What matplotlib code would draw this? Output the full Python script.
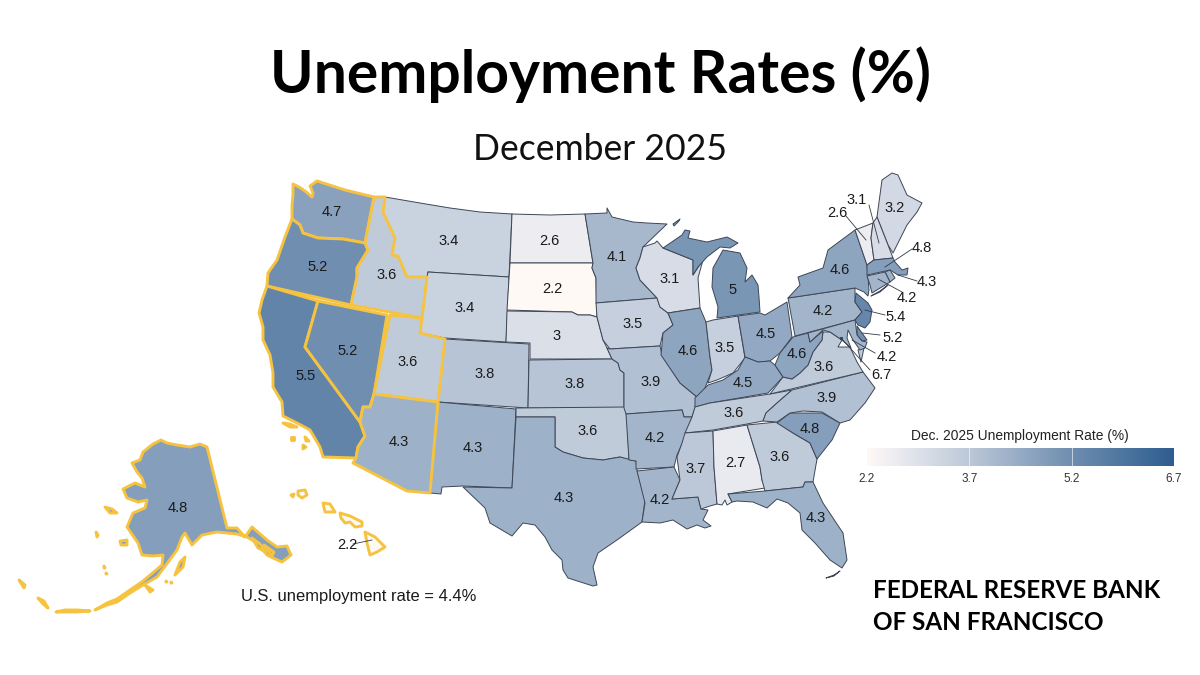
import numpy as np
import matplotlib
matplotlib.use("Agg")
import matplotlib.pyplot as plt
from matplotlib.colors import LinearSegmentedColormap, Normalize
from matplotlib.patches import Polygon

# ---- data ----
STATES = ["WA","OR","CA","NV","ID","MT","WY","UT","AZ","CO","NM","ND","SD","NE","KS","OK","TX","MN","IA","MO",
          "AR","LA","WI","IL","MI","IN","OH","KY","TN","MS","AL","GA","FL","SC","NC","VA","WV","PA","NY","ME",
          "VT","NH","MA","RI","CT","NJ","DE","MD","DC","AK","HI"]
RATES = [4.7,5.2,5.5,5.2,3.6,3.4,3.4,3.6,4.3,3.8,4.3,2.6,2.2,3.0,3.8,3.6,4.3,4.1,3.5,3.9,
         4.2,4.2,3.1,4.6,5.0,3.5,4.5,4.5,3.6,3.7,2.7,3.6,4.3,4.8,3.9,3.6,4.6,4.2,4.6,3.2,
         2.6,3.1,4.8,4.3,4.2,5.4,5.2,4.2,6.7,4.8,2.2]
RATE = dict(zip(STATES, RATES))
DISTRICT_12 = ["WA","OR","CA","NV","ID","UT","AZ","AK","HI"]
CBAR_TICKS = [2.2, 3.7, 5.2, 6.7]
TITLE = "Unemployment Rates (%)"
SUBTITLE = "December 2025"
NOTE = "U.S. unemployment rate = 4.4%"
LEGEND_TITLE = "Dec. 2025 Unemployment Rate (%)"
BANK_LINES = ["FEDERAL RESERVE BANK", "OF SAN FRANCISCO"]

# hand-traced state outlines in map units (no geographic dataset is available offline)
SHAPES = {
"WA":[[(293,184),(299,187),(305,191),(312,197),(313,193),(310,186),(317,181),(345,190),(374,197),(365,243),(343,239),(318,238),(303,233),(300,225),(292,219),(292,205),(293,195)]],
"OR":[[(292,219),(300,225),(303,233),(318,238),(343,239),(365,243),(368,250),(357,268),(357,277),(351,305),(267,286),(268,273),(277,260),(285,237)]],
"CA":[[(267,286),(318,301),(305,347),(360,422),(365,436),(358,447),(356,458),(323,457),(320,447),(310,430),(297,423),(283,416),(282,402),(273,387),(273,373),(270,355),(263,340),(263,327),(259,313),(262,300)],
      [(283,423),(290,424),(297,427),(290,427)],[(291,437),(294,437),(294,440),(291,440)],[(305,437),(309,441),(306,441)],[(303,445),(306,447),(303,449)]],
"NV":[[(318,301),(387,315),(374,394),(370,407),(363,407),(360,422),(305,347)]],
"ID":[[(374,197),(385,197),(383,212),(395,238),(392,255),(398,256),(407,277),(427,277),(422,318),(351,305),(357,277),(357,268),(368,250),(365,243)]],
"MT":[[(385,197),(420,203),(450,208),(480,212),(512,214),(509,277),(428,272),(427,277),(407,277),(398,256),(392,255),(395,238),(383,212)]],
"WY":[[(428,272),(509,277),(506,342),(445,338),(420,333),(422,318),(427,277)]],
"UT":[[(390,315),(422,318),(420,333),(445,339),(438,402),(374,394)]],
"AZ":[[(374,394),(438,402),(430,493),(407,491),(353,463),(356,458),(358,447),(365,436),(360,422),(363,407),(370,407)]],
"CO":[[(445,339),(529,344),(528,408),(438,402)]],
"NM":[[(438,402),(516,409),(512,488),(463,486),(442,487),(441,494),(430,493)]],
"ND":[[(512,214),(550,215),(585,214),(593,263),(510,263)]],
"SD":[[(510,263),(593,263),(592,268),(596,278),(597,317),(590,315),(578,315),(572,312),(507,310)]],
"NE":[[(507,311),(572,312),(578,315),(590,315),(597,317),(603,340),(607,348),(612,359),(530,359),(530,343),(506,342)]],
"KS":[[(529,360),(612,359),(618,363),(620,370),(624,373),(624,408),(528,408)]],
"OK":[[(516,408),(625,407),(627,415),(629,460),(620,457),(603,460),(583,458),(563,452),(555,447),(555,417),(516,417)]],
"TX":[[(516,417),(555,417),(555,447),(563,452),(583,458),(603,460),(620,457),(636,461),(637,470),(645,500),(642,522),(617,540),(598,553),(593,567),(597,585),(593,586),(568,578),(563,570),(562,560),(552,550),(545,537),(535,525),(523,523),(512,536),(490,523),(485,508),(463,487),(512,488)]],
"MN":[[(585,214),(607,213),(607,208),(612,217),(633,222),(647,223),(667,224),(643,247),(640,258),(636,268),(640,280),(657,298),(596,303),(596,278),(592,268),(593,263)]],
"IA":[[(596,303),(657,298),(660,307),(668,313),(673,325),(663,333),(660,346),(610,349),(603,340),(597,317)]],
"MO":[[(610,349),(660,346),(662,355),(667,363),(680,383),(697,397),(695,408),(692,417),(684,417),(682,410),(626,414),(624,408),(624,373),(620,370),(618,363),(612,359),(607,348)]],
"AR":[[(626,414),(682,410),(684,417),(692,417),(687,433),(677,455),(674,467),(636,469),(636,461),(629,460)]],
"LA":[[(637,471),(674,467),(680,480),(672,499),(698,497),(701,509),(708,510),(703,520),(711,526),(705,528),(697,525),(687,529),(673,520),(660,523),(642,522),(645,503)]],
"WI":[[(657,298),(640,280),(636,268),(640,258),(643,247),(655,243),(657,241),(663,248),(693,260),(693,275),(703,260),(698,278),(700,308),(668,313),(660,307)]],
"IL":[[(668,313),(700,308),(706,322),(710,357),(712,370),(705,388),(703,397),(697,397),(680,383),(661,355),(663,333),(673,325)]],
"MI":[[(717,318),(760,312),(759,297),(758,285),(752,275),(745,282),(747,268),(740,253),(723,250),(713,268),(712,287),(718,307)],
      [(663,248),(682,235),(685,230),(690,231),(688,238),(707,242),(727,237),(738,243),(730,248),(720,247),(707,257),(698,267),(693,275),(693,260)],
      [(673,224),(680,219),(679,221),(674,226)]],
"IN":[[(706,322),(713,320),(738,316),(745,358),(733,373),(717,380),(708,383),(712,370),(710,357)]],
"OH":[[(738,316),(760,313),(765,315),(787,302),(792,337),(780,353),(770,361),(758,362),(745,357)]],
"KY":[[(745,357),(758,362),(770,361),(775,365),(783,377),(768,393),(710,403),(695,407),(695,398),(708,385),(723,380),(738,370)]],
"TN":[[(695,407),(710,403),(770,394),(792,390),(777,403),(766,413),(763,421),(747,424),(713,430),(685,433),(692,417)]],
"MS":[[(685,433),(713,431),(714,467),(717,504),(710,506),(701,509),(698,497),(672,499),(680,480),(677,457),(682,443)]],
"AL":[[(713,431),(747,425),(760,467),(762,480),(765,488),(728,494),(732,502),(727,505),(725,500),(722,505),(717,504),(714,467)]],
"GA":[[(747,425),(777,422),(793,433),(810,443),(817,459),(813,482),(805,482),(803,487),(765,491),(762,480),(760,467)]],
"FL":[[(728,494),(765,491),(803,487),(805,482),(813,482),(823,503),(843,533),(847,560),(842,568),(830,560),(815,543),(802,530),(800,513),(788,503),(777,499),(767,508),(753,502),(737,501),(732,502)],
      [(826,578),(834,575),(840,571),(834,576)]],
"SC":[[(777,423),(790,413),(807,413),(822,413),(840,423),(832,440),(817,459),(810,443),(793,433)]],
"NC":[[(863,372),(875,388),(865,403),(850,420),(840,423),(822,412),(803,411),(790,413),(777,422),(763,421),(766,413),(777,403),(792,390)]],
"VA":[[(770,394),(863,372),(857,362),(850,347),(838,347),(842,340),(830,332),(823,332),(822,340),(813,352),(808,365),(800,373),(792,379),(783,377)],
      [(858,350),(864,348),(861,362)]],
"WV":[[(793,337),(808,333),(810,342),(823,331),(822,340),(813,352),(808,365),(800,373),(792,379),(783,377),(775,365),(780,353)]],
"PA":[[(788,298),(795,297),(855,288),(855,302),(862,312),(855,320),(795,336)]],
"NY":[[(788,298),(800,285),(798,277),(823,268),(828,250),(855,230),(867,265),(869,290),(868,296),(864,292),(855,288),(795,297)],
      [(871,296),(880,291),(888,285),(880,292)]],
"ME":[[(877,217),(882,180),(892,173),(898,175),(907,195),(922,203),(917,212),(907,225),(893,253),(888,245)]],
"VT":[[(855,230),(873,223),(871,238),(874,260),(867,265)]],
"NH":[[(873,223),(877,217),(888,245),(893,258),(874,260),(871,238)]],
"MA":[[(867,265),(874,260),(893,258),(895,262),(902,270),(908,268),(907,275),(898,275),(890,270),(867,275)]],
"RI":[[(885,272),(890,270),(895,278),(890,282)]],
"CT":[[(867,276),(885,272),(890,282),(872,293),(870,285)]],
"NJ":[[(856,293),(868,303),(872,310),(870,322),(865,328),(858,325),(855,320),(862,312),(855,302)]],
"DE":[[(857,326),(867,340),(862,341),(857,335)]],
"MD":[[(808,333),(855,320),(857,335),(862,341),(867,342),(865,348),(860,350),(853,340),(848,330),(847,338),(851,348),(842,340),(830,332),(823,330),(810,342)]],
"DC":[[(840,337),(842,337),(842,339),(840,339)]],
"AK":[[(207,447),(227,528),(237,528),(245,537),(252,527),(267,540),(277,547),(287,546),(291,555),(282,562),(273,558),(267,555),(257,543),(247,537),(237,534),(217,532),(202,535),(192,545),(185,533),(182,537),(177,550),(157,577),(143,585),(130,593),(117,602),(107,605),(95,610),(107,603),(117,599),(130,590),(143,581),(162,565),(163,555),(153,556),(142,555),(138,543),(127,527),(133,513),(145,508),(147,500),(138,502),(127,498),(123,489),(135,483),(145,487),(142,478),(137,472),(132,463),(140,460),(143,452),(153,444),(161,440),(167,443),(177,445),(190,447),(200,444)],
      [(175,575),(180,562),(185,557),(183,567)],[(105,507),(112,509),(117,513),(110,513)],[(120,541),(127,540),(127,545),(121,545)],
      [(96,532),(98,535),(97,537)],[(104,566),(105,568),(104,568)],[(106,573),(107,574),(106,574)],
      [(19,580),(25,585),(24,588)],[(38,598),(44,601),(48,608),(43,604)],[(56,612),(65,610),(77,610),(90,611),(77,612),(65,612)],[(145,585),(153,590),(150,592)],
      [(166,581),(167,582),(166,582)],[(171,582),(172,583),(171,583)],
      [(252,538),(260,544),(266,552),(258,548)],[(264,545),(274,552),(272,556)]],
"HI":[[(365,532),(375,537),(385,547),(377,552),(370,555),(367,543)],[(340,513),(350,516),(362,522),(362,526),(355,527),(350,522),(345,523),(341,518)],
      [(323,503),(330,504),(335,512),(325,512)],[(298,491),(305,490),(307,495),(302,498),(298,495)],[(291,495),(294,494),(293,497)]],
}
# direct labels
LABEL_AT = {"WA":(332,212),"OR":(318,267),"CA":(306,376),"NV":(348,351),"ID":(387,275),"MT":(449,241),"WY":(465,308),"UT":(408,362),
"AZ":(399,442),"CO":(485,374),"NM":(473,448),"ND":(549,241),"SD":(552,289),"NE":(557,336),"KS":(575,384),"OK":(588,431),"TX":(564,498),
"MN":(617,257),"IA":(633,324),"MO":(651,382),"AR":(655,438),"LA":(660,500),"WI":(670,279),"IL":(688,351),"MI":(733,290),"IN":(725,348),
"OH":(766,334),"KY":(743,383),"TN":(734,413),"MS":(696,469),"AL":(735,463),"GA":(780,457),"FL":(816,518),"SC":(810,429),"NC":(827,398),
"VA":(824,367),"WV":(797,354),"PA":(823,311),"NY":(840,270),"ME":(895,208),"AK":(178,508)}
# callouts: state -> (label position, leader start, leader end)
CALLOUTS = {"VT":((837,213),(846,216),(866,240)),"NH":((857,200),(869,205),(879,243)),"MA":((922,248),(912,249),(885,267)),
"RI":((927,282),(917,281),(898,275)),"CT":((907,298),(902,292),(878,279)),"NJ":((896,317),(885,315),(865,310)),
"DE":((893,338),(880,335),(862,333)),"MD":((887,357),(875,353),(852,340)),"DC":((881,375),(870,370),(841,338)),
"HI":((347,545),(353,544),(372,540))}

plt.rcParams["font.family"] = ["Liberation Sans", "DejaVu Sans"]
cmap = LinearSegmentedColormap.from_list("rate", [(0,"#fff9f6"),(0.1,"#ebebf0"),(0.333,"#bcc8d8"),(0.667,"#6f8eb0"),(1,"#2d5d8e")], N=512)
norm = Normalize(min(CBAR_TICKS), max(CBAR_TICKS))
GOLD, DARK, INK = "#f6c340", "#3d4656", "#1a1a1a"

fig = plt.figure(figsize=(12, 6.75), dpi=100)
ax = fig.add_axes([0, 0, 1, 1])
ax.set_xlim(0, 1200); ax.set_ylim(675, 0); ax.axis("off")

for st in [s for s in STATES if s not in DISTRICT_12] + DISTRICT_12:
    gold = st in DISTRICT_12
    for part in SHAPES[st]:
        ax.add_patch(Polygon(part, closed=True, fc=cmap(norm(RATE[st])), ec=GOLD if gold else DARK,
                             lw=2.1 if gold else 0.7, joinstyle="round", zorder=3 if gold else 2))

def fmt(v):
    return f"{v:g}"
for st, (x, y) in LABEL_AT.items():
    ax.text(x, y, fmt(RATE[st]), ha="center", va="center", fontsize=10.5, color=INK, zorder=6)
for st, (lab, a, b) in CALLOUTS.items():
    ax.plot([a[0], b[0]], [a[1], b[1]], color="#333a46", lw=0.6, zorder=5)
    ax.text(lab[0], lab[1], fmt(RATE[st]), ha="center", va="center", fontsize=10.5, color=INK, zorder=6)

ax.text(600, 75, TITLE, ha="center", va="center", fontsize=42.3, fontweight="bold", family="Lato", color="black")
ax.text(600, 150, SUBTITLE, ha="center", va="center", fontsize=25.6, family="Lato", color="#111111")
ax.text(241, 596, NOTE, ha="left", va="center", fontsize=11.85, color=INK)
for line, y in zip(BANK_LINES, (591, 622)):
    ax.text(873, y, line, ha="left", va="center", fontsize=17.4, fontweight="bold", family="Lato", color="black")

# colour bar
cax = fig.add_axes([867/1200, 1-466/675, (1174-867)/1200, 18/675])
cax.imshow(np.linspace(0, 1, 512)[None, :], cmap=cmap, aspect="auto", extent=[norm.vmin, norm.vmax, 0, 1])
cax.set_yticks([]); cax.set_xticks(CBAR_TICKS)
cax.set_xticklabels([fmt(t) for t in CBAR_TICKS], fontsize=8.5, color="#333333")
cax.tick_params(axis="x", length=0, pad=5)
for s in cax.spines.values():
    s.set_visible(False)
for t in CBAR_TICKS[1:-1]:
    cax.axvline(t, color="white", lw=0.7, alpha=.6)
ax.text(1020, 436, LEGEND_TITLE, ha="center", va="center", fontsize=9.9, color="#222222")

fig.savefig("out.png", dpi=100, facecolor="white")
